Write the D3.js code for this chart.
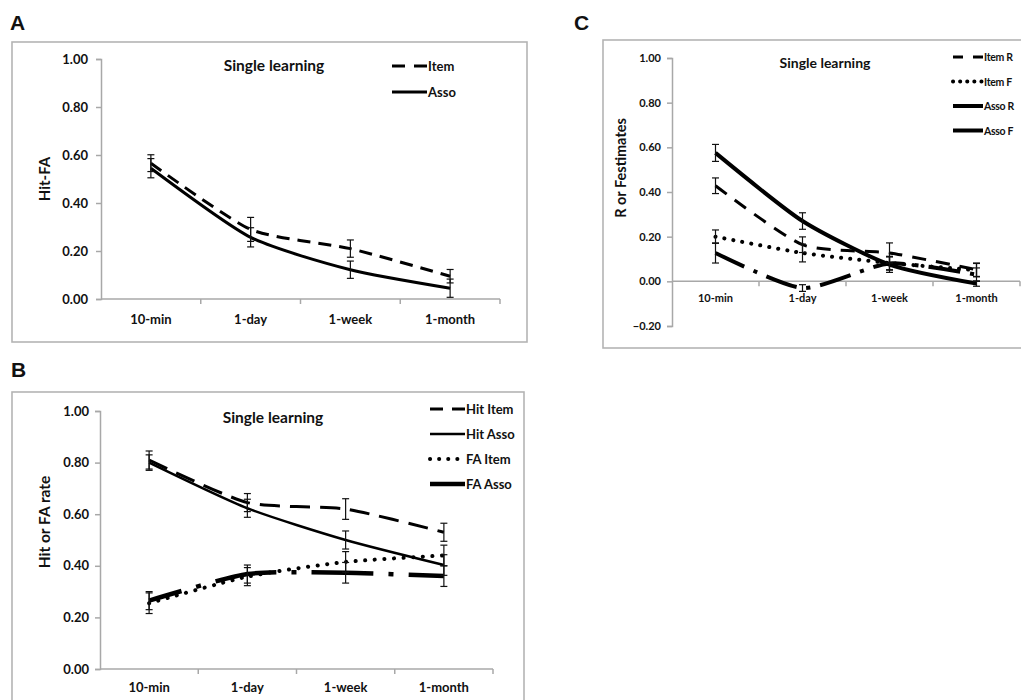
<!DOCTYPE html>
<html>
<head>
<meta charset="utf-8">
<script src="https://cdn.jsdelivr.net/npm/d3@7"></script>
<style>
  html, body { margin: 0; padding: 0; background: #fff; }
  svg { display: block; }
  text { font-family: Lato, "Open Sans", sans-serif; font-weight: bold; fill: #111; }
</style>
</head>
<body>
<svg id="chart" width="1021" height="700"></svg>
<script>
// ---------------- DATA ----------------
const categories = ["10-min", "1-day", "1-week", "1-month"];
const ticksAB = [0, 0.2, 0.4, 0.6, 0.8, 1.0];
const ticksC = [-0.2, 0, 0.2, 0.4, 0.6, 0.8, 1.0];

// Panel A: Hit-FA
const aItem = [0.566, 0.29, 0.21, 0.095];
const aItemErr = [0.035, 0.05, 0.036, 0.028];
const aAsso = [0.545, 0.257, 0.122, 0.045];
const aAssoErr = [0.04, 0.04, 0.036, 0.038];

// Panel B: Hit or FA rate
const bHitItem = [0.81, 0.645, 0.62, 0.53];
const bHitItemErr = [0.035, 0.035, 0.04, 0.035];
const bHitAsso = [0.80, 0.623, 0.50, 0.403];
const bHitAssoErr = [0.03, 0.035, 0.035, 0.04];
const bFAItem = [0.255, 0.358, 0.415, 0.44];
const bFAItemErr = [0.04, 0.035, 0.04, 0.04];
const bFAAsso = [0.265, 0.368, 0.373, 0.36];
const bFAAssoErr = [0.035, 0.035, 0.04, 0.04];

// Panel C: R or F estimates
const cItemR = [0.428, 0.164, 0.127, 0.052];
const cItemRErr = [0.035, 0.035, 0.045, 0.03];
const cItemF = [0.20, 0.127, 0.082, 0.05];
const cItemFErr = [0.03, 0.04, 0.03, 0.03];
const cAssoR = [0.575, 0.27, 0.075, -0.01];
const cAssoRErr = [0.038, 0.037, 0.035, 0.012];
const cAssoF = [0.127, -0.03, 0.08, 0.03];
const cAssoFErr = [0.045, 0.015, 0.03, 0.03];

// ---------------- DRAWING ----------------
const svg = d3.select("#chart");
const fmt = d3.format(".2f");

function drawPanel(cfg) {
  const g = svg.append("g");
  // frame
  g.append("rect")
    .attr("x", cfg.box[0]).attr("y", cfg.box[1])
    .attr("width", cfg.box[2]).attr("height", cfg.box[3])
    .attr("fill", "none").attr("stroke", "#b4b4b4").attr("stroke-width", 1.6);

  // panel letter
  svg.append("text").attr("x", cfg.letter[0]).attr("y", cfg.letter[1])
    .style("font-family", "'Liberation Sans', Arial, sans-serif")
    .style("font-size", "21px").text(cfg.letter[2]);

  const x = d3.scaleBand().domain(categories).range(cfg.xr);
  const y = d3.scaleLinear().domain(cfg.yd).range(cfg.yr);
  const cx = c => x(c) + x.bandwidth() / 2;

  // y axis
  const yAxis = d3.axisLeft(y).tickValues(cfg.ticks).tickFormat(fmt)
    .tickSize(5).tickPadding(cfg.tickPad);
  const ya = g.append("g").attr("transform", `translate(${cfg.xr[0]},0)`).call(yAxis);
  ya.select(".domain").attr("stroke", "#a8a8a8").attr("stroke-width", 1.5);
  ya.selectAll(".tick line").attr("stroke", "#a8a8a8").attr("stroke-width", 1.5);
  ya.selectAll(".tick text").style("font-size", cfg.tickFont + "px")
    .style("font-family", "Lato, sans-serif").style("font-weight", "bold").attr("fill", "#111");

  // x axis (line at y=0, ticks at band boundaries)
  const xa = g.append("g");
  xa.append("line").attr("x1", cfg.xr[0]).attr("x2", cfg.xr[1])
    .attr("y1", y(0)).attr("y2", y(0))
    .attr("stroke", "#a8a8a8").attr("stroke-width", 1.5);
  const bounds = categories.map(c => x(c) + x.bandwidth());
  xa.selectAll("line.bt").data(bounds).join("line").attr("class", "bt")
    .attr("x1", d => d).attr("x2", d => d)
    .attr("y1", y(0)).attr("y2", y(0) + 5)
    .attr("stroke", "#a8a8a8").attr("stroke-width", 1.5);
  xa.selectAll("text").data(categories).join("text")
    .attr("x", d => cx(d)).attr("y", cfg.xLabelY)
    .attr("text-anchor", "middle").style("font-size", cfg.tickFont + "px").text(d => d);

  // y title
  g.append("text")
    .attr("transform", `translate(${cfg.yTitle[0]},${cfg.yTitle[1]}) rotate(-90)`)
    .attr("text-anchor", "middle").attr("dominant-baseline", "central")
    .style("font-size", cfg.yTitleFont + "px").text(cfg.yTitle[2]);

  // chart title
  g.append("text").attr("x", cfg.title[0]).attr("y", cfg.title[1])
    .attr("text-anchor", "middle").attr("dominant-baseline", "central")
    .style("font-size", cfg.titleFont + "px").text("Single learning");

  const line = d3.line().x((d, i) => cx(categories[i])).y(d => y(d))
    .curve(d3.curveCardinal.tension(0.35));

  // series
  cfg.series.forEach(s => {
    g.append("path").datum(s.values).attr("d", line)
      .attr("fill", "none").attr("stroke", "#000")
      .attr("stroke-width", s.w)
      .attr("stroke-dasharray", s.dash || null)
      .attr("stroke-dashoffset", s.offset || 0)
      .attr("stroke-linecap", s.cap || "butt");
  });

  // error bars
  cfg.series.forEach(s => {
    s.values.forEach((v, i) => {
      const px = cx(categories[i]);
      const e = s.err[i];
      const eg = g.append("g").attr("stroke", "#111").attr("stroke-width", 1.2);
      eg.append("line").attr("x1", px).attr("x2", px).attr("y1", y(v - e)).attr("y2", y(v + e));
      [v - e, v + e].forEach(t => {
        eg.append("line").attr("x1", px - 3.5).attr("x2", px + 3.5).attr("y1", y(t)).attr("y2", y(t));
      });
    });
  });

  // legend
  cfg.series.forEach((s, i) => {
    const ly = cfg.legend.y0 + i * cfg.legend.dy;
    g.append("line").attr("x1", cfg.legend.x1).attr("x2", cfg.legend.x2)
      .attr("y1", ly).attr("y2", ly)
      .attr("stroke", "#000").attr("stroke-width", s.lw || s.w)
      .attr("stroke-dasharray", s.ldash || null)
      .attr("stroke-linecap", s.cap || "butt");
    g.append("text").attr("x", cfg.legend.x2 + 1).attr("y", ly)
      .attr("dominant-baseline", "central")
      .style("font-size", cfg.legend.font + "px")
      .style("letter-spacing", cfg.legend.ls || "0px")
      .text(s.name);
  });
}

// Panel A
drawPanel({
  box: [12, 42, 515, 300],
  letter: [10, 30, "A"],
  xr: [101, 500], yd: [0, 1], yr: [299, 59], ticks: ticksAB,
  tickPad: 8, tickFont: 13, xLabelY: 324,
  yTitle: [44, 179, "Hit-FA"], yTitleFont: 15,
  title: [274, 65], titleFont: 15.5,
  legend: { x1: 392, x2: 427, y0: 66, dy: 26, font: 13 },
  series: [
    { name: "Item", values: aItem, err: aItemErr, w: 3, dash: "13 8", ldash: "13 9" },
    { name: "Asso", values: aAsso, err: aAssoErr, w: 3 }
  ]
});

// Panel B
drawPanel({
  box: [12, 392, 512, 320],
  letter: [11, 377, "B"],
  xr: [100, 493], yd: [0, 1], yr: [669, 411], ticks: ticksAB,
  tickPad: 6, tickFont: 13, xLabelY: 692,
  yTitle: [44, 522, "Hit or FA rate"], yTitleFont: 15.5,
  title: [273, 417], titleFont: 15.5,
  legend: { x1: 430, x2: 465, y0: 409, dy: 25, font: 13 },
  series: [
    { name: "Hit Item", values: bHitItem, err: bHitItemErr, w: 3, dash: "20 10", ldash: "13 9" },
    { name: "Hit Asso", values: bHitAsso, err: bHitAssoErr, w: 2.5 },
    { name: "FA Item", values: bFAItem, err: bFAItemErr, w: 4, dash: "0.1 9.5", ldash: "0.1 9", cap: "round" },
    { name: "FA Asso", values: bFAAsso, err: bFAAssoErr, w: 4.5, dash: "62 15 5 15", offset: 28 }
  ]
});

// Panel C
drawPanel({
  box: [603, 40, 430, 308],
  letter: [574, 30, "C"],
  xr: [672, 1020], yd: [-0.2, 1], yr: [326, 58], ticks: ticksC,
  tickPad: 6, tickFont: 11, xLabelY: 302,
  yTitle: [620, 168, "R or Festimates"], yTitleFont: 14.5,
  title: [825, 62], titleFont: 14,
  legend: { x1: 953, x2: 983, y0: 57, dy: 24.5, font: 10.5, ls: "-0.3px" },
  series: [
    { name: "Item R", values: cItemR, err: cItemRErr, w: 3, dash: "14 10", ldash: "10 10" },
    { name: "Item F", values: cItemF, err: cItemFErr, w: 4, dash: "0.1 9", ldash: "0.1 7", cap: "round" },
    { name: "Asso R", values: cAssoR, err: cAssoRErr, w: 4 },
    { name: "Asso F", values: cAssoF, err: cAssoFErr, w: 4, dash: "32 10 4 10" }
  ]
});
</script>
</body>
</html>
